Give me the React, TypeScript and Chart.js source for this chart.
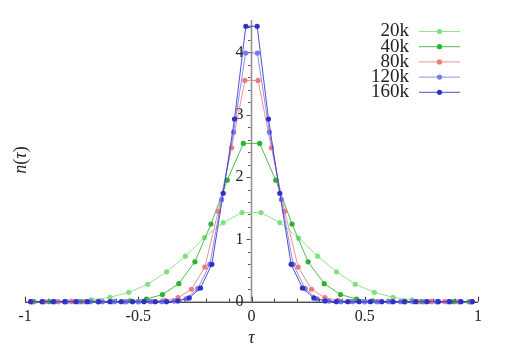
import React, { useEffect, useRef } from 'react';
import { Chart, registerables } from 'chart.js';

Chart.register(...registerables);

const seriesLabels = ['20k', '40k', '80k', '120k', '160k'];
const seriesColors = ['rgb(125,226,125)', 'rgb(45,178,45)', 'rgb(240,122,122)', 'rgb(122,122,240)', 'rgb(48,48,200)'];

const x20k = [-0.958, -0.875, -0.792, -0.708, -0.625, -0.542, -0.458, -0.375, -0.292, -0.208, -0.125, -0.042,
  0.042, 0.125, 0.208, 0.292, 0.375, 0.458, 0.542, 0.625, 0.708, 0.792, 0.875, 0.958];
const y20k = [0.001, 0.003, 0.007, 0.03, 0.07, 0.15, 0.28, 0.48, 0.73, 1.03, 1.27, 1.43,
  1.43, 1.27, 1.02, 0.73, 0.48, 0.28, 0.15, 0.07, 0.03, 0.008, 0.003, 0.001];

const x40k = [-0.964, -0.893, -0.821, -0.75, -0.679, -0.607, -0.536, -0.464, -0.393, -0.321, -0.25, -0.179, -0.107, -0.036,
  0.036, 0.107, 0.179, 0.25, 0.321, 0.393, 0.464, 0.536, 0.607, 0.679, 0.75, 0.821, 0.893, 0.964];
const y40k = [0, 0, 0, 0.001, 0.002, 0.005, 0.015, 0.043, 0.115, 0.29, 0.64, 1.245, 1.95, 2.54,
  2.54, 1.95, 1.245, 0.64, 0.29, 0.115, 0.043, 0.015, 0.005, 0.002, 0.001, 0, 0, 0];

const x80k = [-0.971, -0.912, -0.853, -0.794, -0.735, -0.676, -0.618, -0.559, -0.5, -0.441, -0.382, -0.324, -0.265, -0.206, -0.147, -0.088, -0.029,
  0.029, 0.088, 0.147, 0.206, 0.265, 0.324, 0.382, 0.441, 0.5, 0.559, 0.618, 0.676, 0.735, 0.794, 0.853, 0.912, 0.971];
const y80k = [0, 0, 0, 0, 0, 0, 0, 0, 0.001, 0.005, 0.02, 0.064, 0.2, 0.556, 1.45, 2.47, 3.55,
  3.55, 2.47, 1.45, 0.556, 0.2, 0.064, 0.02, 0.005, 0.001, 0, 0, 0, 0, 0, 0, 0, 0];

const x120k = [-0.974, -0.921, -0.868, -0.816, -0.763, -0.711, -0.658, -0.605, -0.553, -0.5, -0.447, -0.395, -0.342, -0.289, -0.237, -0.184, -0.132, -0.079, -0.026,
  0.026, 0.079, 0.132, 0.184, 0.237, 0.289, 0.342, 0.395, 0.447, 0.5, 0.553, 0.605, 0.658, 0.711, 0.763, 0.816, 0.868, 0.921, 0.974];
const y120k = [0, 0, 0, 0, 0, 0, 0, 0, 0, 0, 0, 0.001, 0.01, 0.045, 0.21, 0.6, 1.64, 2.72, 3.99,
  3.99, 2.72, 1.64, 0.6, 0.21, 0.045, 0.01, 0.001, 0, 0, 0, 0, 0, 0, 0, 0, 0, 0, 0];

const x160k = [-0.975, -0.925, -0.875, -0.825, -0.775, -0.725, -0.675, -0.625, -0.575, -0.525, -0.475, -0.425, -0.375, -0.325, -0.275, -0.225, -0.175, -0.125, -0.075, -0.025,
  0.025, 0.075, 0.125, 0.175, 0.225, 0.275, 0.325, 0.375, 0.425, 0.475, 0.525, 0.575, 0.625, 0.675, 0.725, 0.775, 0.825, 0.875, 0.925, 0.975];
const y160k = [0, 0, 0, 0, 0, 0, 0, 0, 0, 0, 0, 0, 0.001, 0.012, 0.06, 0.22, 0.6, 1.74, 2.93, 4.42,
  4.42, 2.93, 1.74, 0.6, 0.22, 0.06, 0.012, 0.001, 0, 0, 0, 0, 0, 0, 0, 0, 0, 0, 0, 0];

const xSeries = [x20k, x40k, x80k, x120k, x160k];
const ySeries = [y20k, y40k, y80k, y120k, y160k];

const xTickValues = [-1, -0.5, 0, 0.5, 1];
const xTickLabels = ['-1', '-0.5', '0', '0.5', '1'];
const xMinorTicks = [-1, -0.9, -0.8, -0.7, -0.6, -0.5, -0.4, -0.3, -0.2, -0.1, 0, 0.1, 0.2, 0.3, 0.4, 0.5, 0.6, 0.7, 0.8, 0.9, 1];
const yTickValues = [0, 1, 2, 3, 4];
const yTickLabels = ['0', '1', '2', '3', '4'];
const yMinorTicks = [0.2, 0.4, 0.6, 0.8, 1.2, 1.4, 1.6, 1.8, 2.2, 2.4, 2.6, 2.8, 3.2, 3.4, 3.6, 3.8, 4.2, 4.4];

const SERIF = '"Liberation Serif", "DejaVu Serif", serif';

function withAlpha(rgb: string, a: number) {
  return rgb.replace('rgb(', 'rgba(').replace(')', `,${a})`);
}

const axesPlugin = {
  id: 'customAxes',
  beforeDatasetsDraw(chart: any) {
    const ctx = chart.ctx as CanvasRenderingContext2D;
    const xs = chart.scales.x;
    const ys = chart.scales.y;
    const y0 = ys.getPixelForValue(0);
    const x0 = xs.getPixelForValue(0);
    ctx.save();
    // x axis
    ctx.strokeStyle = '#000';
    ctx.lineWidth = 1;
    ctx.beginPath();
    ctx.moveTo(xs.getPixelForValue(-1), y0 + 0.5);
    ctx.lineTo(xs.getPixelForValue(1), y0 + 0.5);
    ctx.stroke();
    ctx.strokeStyle = '#333';
    xMinorTicks.forEach((v) => {
      const px = Math.round(xs.getPixelForValue(v)) + 0.5;
      const major = xTickValues.some((t) => Math.abs(t - v) < 1e-9);
      ctx.beginPath();
      ctx.moveTo(px, y0);
      ctx.lineTo(px, y0 - (major ? 5 : 3));
      ctx.stroke();
    });
    ctx.fillStyle = '#222';
    ctx.font = `16px ${SERIF}`;
    ctx.textAlign = 'center';
    ctx.textBaseline = 'middle';
    xTickValues.forEach((v, i) => {
      ctx.fillText(xTickLabels[i], xs.getPixelForValue(v), y0 + 15);
    });
    // y axis
    ctx.strokeStyle = '#8c8c8c';
    ctx.lineWidth = 1.5;
    ctx.beginPath();
    ctx.moveTo(x0, y0);
    ctx.lineTo(x0, chart.chartArea.top);
    ctx.stroke();
    ctx.lineWidth = 1;
    ctx.strokeStyle = '#555';
    yMinorTicks.forEach((v) => {
      const py = Math.round(ys.getPixelForValue(v)) + 0.5;
      ctx.beginPath();
      ctx.moveTo(x0 - 1, py);
      ctx.lineTo(x0 - 3.5, py);
      ctx.stroke();
    });
    yTickValues.forEach((v) => {
      if (v === 0) return;
      const py = Math.round(ys.getPixelForValue(v)) + 0.5;
      ctx.beginPath();
      ctx.moveTo(x0 - 1, py);
      ctx.lineTo(x0 - 5, py);
      ctx.stroke();
    });
    ctx.fillStyle = '#222';
    ctx.textAlign = 'right';
    ctx.textBaseline = 'middle';
    yTickValues.forEach((v, i) => {
      ctx.fillText(yTickLabels[i], x0 - 8, ys.getPixelForValue(v));
    });
    // titles
    ctx.font = `italic 18px ${SERIF}`;
    ctx.textAlign = 'center';
    ctx.fillText('τ', x0, 338);
    ctx.save();
    ctx.translate(21, 160);
    ctx.rotate(-Math.PI / 2);
    const parts: [string, boolean][] = [['n', true], ['(', false], ['τ', true], [')', false]];
    let total = 0;
    parts.forEach(([t, it]) => {
      ctx.font = `${it ? 'italic ' : ''}18px ${SERIF}`;
      total += ctx.measureText(t).width;
    });
    let cx = -total / 2;
    ctx.textAlign = 'left';
    parts.forEach(([t, it]) => {
      ctx.font = `${it ? 'italic ' : ''}18px ${SERIF}`;
      ctx.fillText(t, cx, 0);
      cx += ctx.measureText(t).width;
    });
    ctx.restore();
    ctx.restore();
  },
  afterDraw(chart: any) {
    const ctx = chart.ctx as CanvasRenderingContext2D;
    ctx.save();
    ctx.font = `19px ${SERIF}`;
    ctx.textAlign = 'right';
    ctx.textBaseline = 'middle';
    seriesLabels.forEach((lab, i) => {
      const ry = 31.5 + i * 15.2;
      ctx.fillStyle = '#222';
      ctx.fillText(lab, 409, ry);
      ctx.strokeStyle = withAlpha(seriesColors[i], 0.85);
      ctx.lineWidth = 1;
      ctx.beginPath();
      ctx.moveTo(419, ry);
      ctx.lineTo(460, ry);
      ctx.stroke();
      ctx.fillStyle = seriesColors[i];
      ctx.beginPath();
      ctx.arc(439.5, ry, 2.6, 0, Math.PI * 2);
      ctx.fill();
    });
    ctx.restore();
  },
};

export default function App() {
  const ref = useRef<HTMLCanvasElement>(null);
  useEffect(() => {
    if (!ref.current) return;
    const datasets = seriesLabels.map((lab, i) => ({
      label: lab,
      data: xSeries[i].map((x, j) => ({ x, y: ySeries[i][j] })),
      borderColor: withAlpha(seriesColors[i], 0.85),
      backgroundColor: seriesColors[i],
      pointBackgroundColor: seriesColors[i],
      pointBorderWidth: 0,
      pointRadius: 2.6,
      borderWidth: 1,
      tension: 0,
      fill: false,
      clip: false as any,
      order: seriesLabels.length - i,
    }));
    const chart = new Chart(ref.current, {
      type: 'line',
      data: { datasets },
      options: {
        responsive: false,
        animation: false,
        layout: { padding: { left: 25, right: 29, top: 20, bottom: 51.3 } },
        scales: {
          x: { type: 'linear', min: -1, max: 1, display: false },
          y: { type: 'linear', min: 0, max: 4.52, display: false },
        },
        plugins: { legend: { display: false }, tooltip: { enabled: false } },
      },
      plugins: [axesPlugin],
    });
    return () => chart.destroy();
  }, []);
  return (
    <div style={{ position: 'fixed', left: 0, top: 0, width: 507, height: 353, background: '#fff' }}>
      <canvas ref={ref} width={507} height={353} style={{ width: 507, height: 353 }} />
    </div>
  );
}
